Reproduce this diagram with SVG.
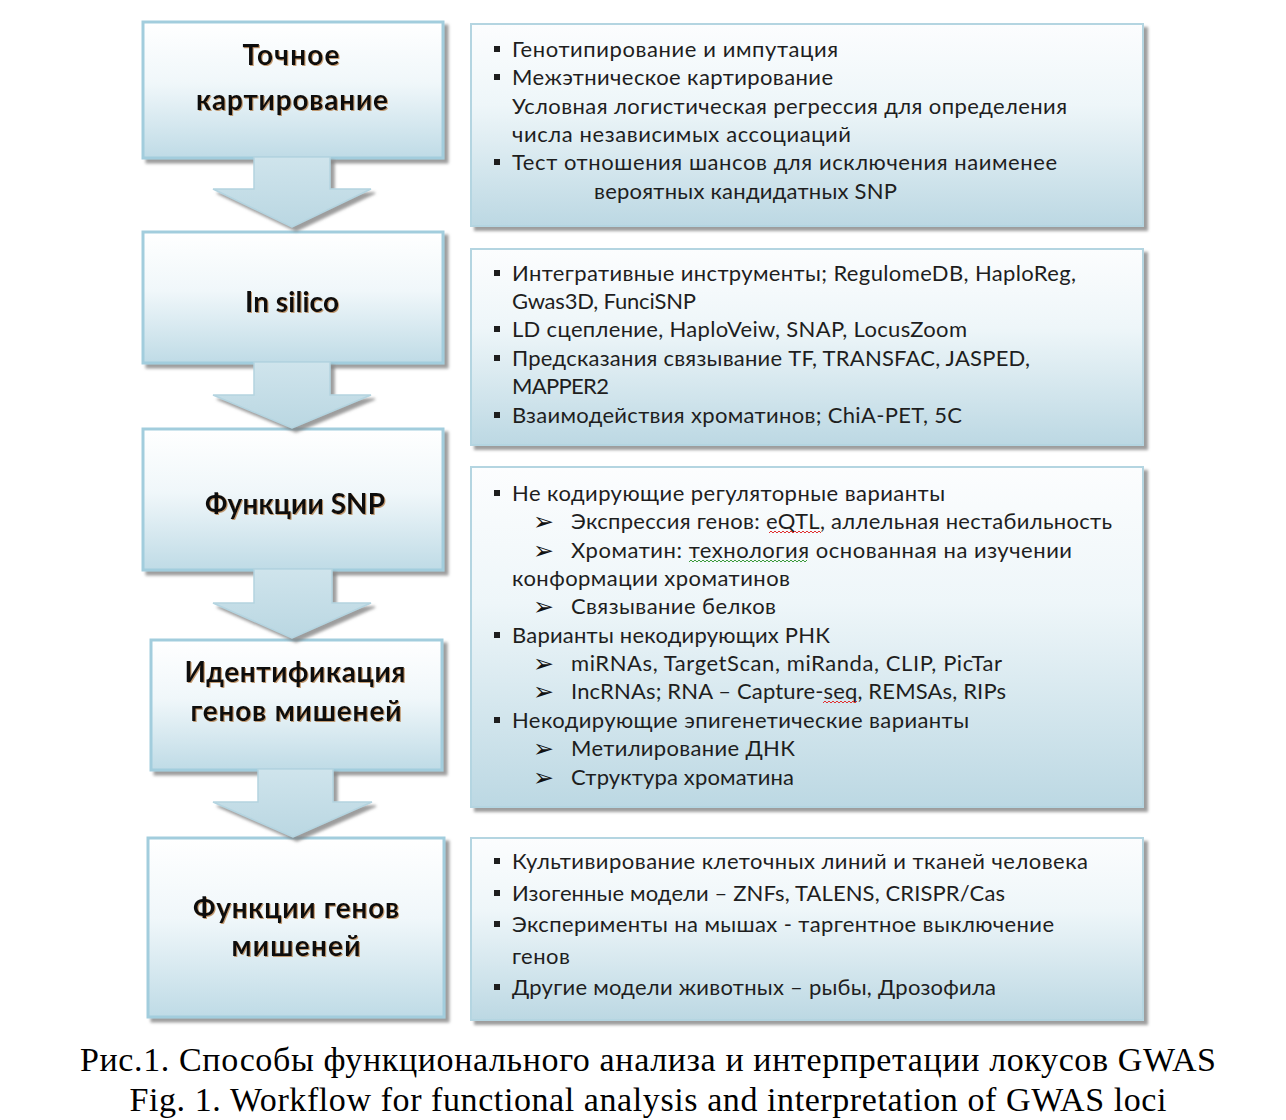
<svg xmlns="http://www.w3.org/2000/svg" width="1286" height="1120" viewBox="0 0 1286 1120">
<defs>
<linearGradient id="gL" x1="0" y1="0" x2="0" y2="1"><stop offset="0" stop-color="#ffffff"/><stop offset="0.45" stop-color="#f0f7fa"/><stop offset="1" stop-color="#bfdbe6"/></linearGradient>
<linearGradient id="gR" x1="0" y1="0" x2="0" y2="1"><stop offset="0" stop-color="#fcfdfe"/><stop offset="0.4" stop-color="#eef6f9"/><stop offset="1" stop-color="#bcd8e3"/></linearGradient>
<linearGradient id="gA" x1="0" y1="0" x2="0" y2="1"><stop offset="0" stop-color="#cfe4ec"/><stop offset="1" stop-color="#bad7e2"/></linearGradient>
<filter id="sh" x="-10%" y="-10%" width="125%" height="130%"><feDropShadow dx="4" dy="4" stdDeviation="1.8" flood-color="#7d7d7d" flood-opacity="0.75"/></filter>
<filter id="glow" x="-5%" y="-20%" width="110%" height="140%"><feDropShadow dx="1" dy="1" stdDeviation="0.7" flood-color="#b0743a" flood-opacity="0.7"/></filter>
</defs>
<style>
.bl{fill:url(#gL);stroke:#a2cddd;stroke-width:3;filter:url(#sh)}
.br{fill:url(#gR);stroke:#b4d5e1;stroke-width:2;filter:url(#sh)}
.ar{fill:url(#gA);stroke:#b4d4e0;stroke-width:1.5;filter:url(#sh)}
.t{font-family:Lato,"Liberation Sans",sans-serif;font-size:22px;fill:#1e1e1e}
.h{font-family:Lato,"Liberation Sans",sans-serif;font-weight:bold;font-size:28px;fill:#111;text-anchor:middle;filter:url(#glow)}
.ah{font-family:"DejaVu Sans",sans-serif;font-weight:bold;font-size:25px;fill:#111}
.cap{font-family:"Liberation Serif",serif;font-size:34px;fill:#000;text-anchor:middle}
.bu{fill:#1e1e1e}
.wr{fill:none;stroke:#e03030;stroke-width:1}
.wg{fill:none;stroke:#3a9a3a;stroke-width:1}
</style>
<rect width="1286" height="1120" fill="#ffffff"/>

<g id="step1">
<rect class="bl" x="143" y="22" width="300" height="136"/>
<text class="h" x="291" y="65" textLength="97">Точное</text>
<text class="h" x="292" y="110" textLength="192">картирование</text>
</g>
<g id="step2">
<rect class="bl" x="143" y="232" width="300" height="131"/>
<text class="h" x="292" y="312" textLength="94">In silico</text>
</g>
<g id="step3">
<rect class="bl" x="143" y="429" width="300" height="141"/>
<text class="h" x="295" y="514" textLength="180">Функции SNP</text>
</g>
<g id="step4">
<rect class="bl" x="151" y="640" width="291" height="130"/>
<text class="h" x="295" y="682" textLength="221">Идентификация</text>
<text class="h" x="296" y="721" textLength="211">генов мишеней</text>
</g>
<g id="step5">
<rect class="bl" x="148" y="838" width="296" height="179"/>
<text class="h" x="296" y="918" textLength="206">Функции генов</text>
<text class="h" x="296" y="956" textLength="129">мишеней</text>
</g>

<g id="connectors">
<polygon class="ar" points="254,157 330,157 330,189 371,189 292,227 213,189 254,189"/>
<polygon class="ar" points="254,362 330,362 330,395 371,395 292,428 213,395 254,395"/>
<polygon class="ar" points="254,569 332,569 332,603 371,603 292,638 213,603 254,603"/>
<polygon class="ar" points="258,769 333,769 333,802 372,802 293,837 213,802 258,802"/>
</g>

<g id="details1">
<rect class="br" x="471" y="24" width="672" height="202"/>
<rect class="bu" x="494" y="46" width="6" height="6"/>
<text class="t" x="512" y="57" textLength="326">Генотипирование и импутация</text>
<rect class="bu" x="494" y="74" width="6" height="6"/>
<text class="t" x="512" y="85" textLength="321">Межэтническое картирование</text>
<text class="t" x="512" y="114" textLength="555">Условная логистическая регрессия для определения</text>
<text class="t" x="512" y="142" textLength="339">числа независимых ассоциаций</text>
<rect class="bu" x="494" y="159" width="6" height="6"/>
<text class="t" x="512" y="170" textLength="545">Тест отношения  шансов для исключения наименее</text>
<text class="t" x="594" y="199" textLength="303">вероятных  кандидатных SNP</text>
</g>

<g id="details2">
<rect class="br" x="471" y="249" width="672" height="196"/>
<rect class="bu" x="494" y="270" width="6" height="6"/>
<text class="t" x="512" y="281" textLength="564">Интегративные  инструменты; RegulomeDB, HaploReg,</text>
<text class="t" x="512" y="309" textLength="184">Gwas3D, FunciSNP</text>
<rect class="bu" x="494" y="326" width="6" height="6"/>
<text class="t" x="512" y="337" textLength="455">LD сцепление, HaploVeiw,  SNAP, LocusZoom</text>
<rect class="bu" x="494" y="355" width="6" height="6"/>
<text class="t" x="512" y="366" textLength="518">Предсказания связывание TF, TRANSFAC,  JASPED,</text>
<text class="t" x="512" y="394" textLength="97">MAPPER2</text>
<rect class="bu" x="494" y="412" width="6" height="6"/>
<text class="t" x="512" y="423" textLength="450">Взаимодействия хроматинов;  ChiA-PET, 5C</text>
</g>

<g id="details3">
<rect class="br" x="471" y="467" width="672" height="340"/>
<rect class="bu" x="494" y="490" width="6" height="6"/>
<text class="t" x="512" y="501" textLength="433">Не кодирующие  регуляторные  варианты</text>
<text class="ah" x="533" y="530">➢</text>
<text class="t" x="571" y="529" textLength="541">Экспрессия генов: eQTL, аллельная нестабильность</text>
<text class="ah" x="533" y="559">➢</text>
<text class="t" x="571" y="558" textLength="501">Хроматин: технология  основанная на изучении</text>
<text class="t" x="512" y="586" textLength="278">конформации хроматинов</text>
<text class="ah" x="533" y="615">➢</text>
<text class="t" x="571" y="614" textLength="205">Связывание белков</text>
<rect class="bu" x="494" y="632" width="6" height="6"/>
<text class="t" x="512" y="643" textLength="318">Варианты некодирующих РНК</text>
<text class="ah" x="533" y="672">➢</text>
<text class="t" x="571" y="671" textLength="431">miRNAs, TargetScan, miRanda,  CLIP, PicTar</text>
<text class="ah" x="533" y="700">➢</text>
<text class="t" x="571" y="699" textLength="435">IncRNAs; RNA – Capture-seq,  REMSAs, RIPs</text>
<rect class="bu" x="494" y="717" width="6" height="6"/>
<text class="t" x="512" y="728" textLength="457">Некодирующие  эпигенетические варианты</text>
<text class="ah" x="533" y="757">➢</text>
<text class="t" x="571" y="756" textLength="224">Метилирование  ДНК</text>
<text class="ah" x="533" y="786">➢</text>
<text class="t" x="571" y="785" textLength="223">Структура  хроматина</text>
<path class="wr" d="M769,533 l2,-2 l2,2 l2,-2 l2,2 l2,-2 l2,2 l2,-2 l2,2 l2,-2 l2,2 l2,-2 l2,2 l2,-2 l2,2 l2,-2 l2,2 l2,-2 l2,2 l2,-2 l2,2 l2,-2 l2,2 l2,-2 l2,2 l2,-2 l2,2"/>
<path class="wg" d="M689,562 l2,-2 l2,2 l2,-2 l2,2 l2,-2 l2,2 l2,-2 l2,2 l2,-2 l2,2 l2,-2 l2,2 l2,-2 l2,2 l2,-2 l2,2 l2,-2 l2,2 l2,-2 l2,2 l2,-2 l2,2 l2,-2 l2,2 l2,-2 l2,2 l2,-2 l2,2 l2,-2 l2,2 l2,-2 l2,2 l2,-2 l2,2 l2,-2 l2,2 l2,-2 l2,2 l2,-2 l2,2 l2,-2 l2,2 l2,-2 l2,2 l2,-2 l2,2 l2,-2 l2,2 l2,-2 l2,2 l2,-2 l2,2 l2,-2 l2,2 l2,-2 l2,2 l2,-2 l2,2 l2,-2"/>
<path class="wr" d="M823,703 l2,-2 l2,2 l2,-2 l2,2 l2,-2 l2,2 l2,-2 l2,2 l2,-2 l2,2 l2,-2 l2,2 l2,-2 l2,2 l2,-2 l2,2 l2,-2"/>
</g>

<g id="details4">
<rect class="br" x="471" y="838" width="672" height="182"/>
<rect class="bu" x="494" y="858" width="6" height="6"/>
<text class="t" x="512" y="869" textLength="576">Культивирование клеточных  линий и тканей человека</text>
<rect class="bu" x="494" y="890" width="6" height="6"/>
<text class="t" x="512" y="901" textLength="493">Изогенные модели – ZNFs, TALENS, CRISPR/Cas</text>
<rect class="bu" x="494" y="921" width="6" height="6"/>
<text class="t" x="512" y="932" textLength="542">Эксперименты на мышах - таргентное  выключение</text>
<text class="t" x="512" y="964" textLength="58">генов</text>
<rect class="bu" x="494" y="984" width="6" height="6"/>
<text class="t" x="512" y="995" textLength="484">Другие модели животных – рыбы,  Дрозофила</text>
</g>

<g id="caption">
<text class="cap" x="648" y="1071" textLength="1136">Рис.1. Способы функционального анализа и интерпретации локусов GWAS</text>
<text class="cap" x="648" y="1111" textLength="1037">Fig. 1. Workflow for functional analysis and interpretation of GWAS loci</text>
</g>
</svg>
